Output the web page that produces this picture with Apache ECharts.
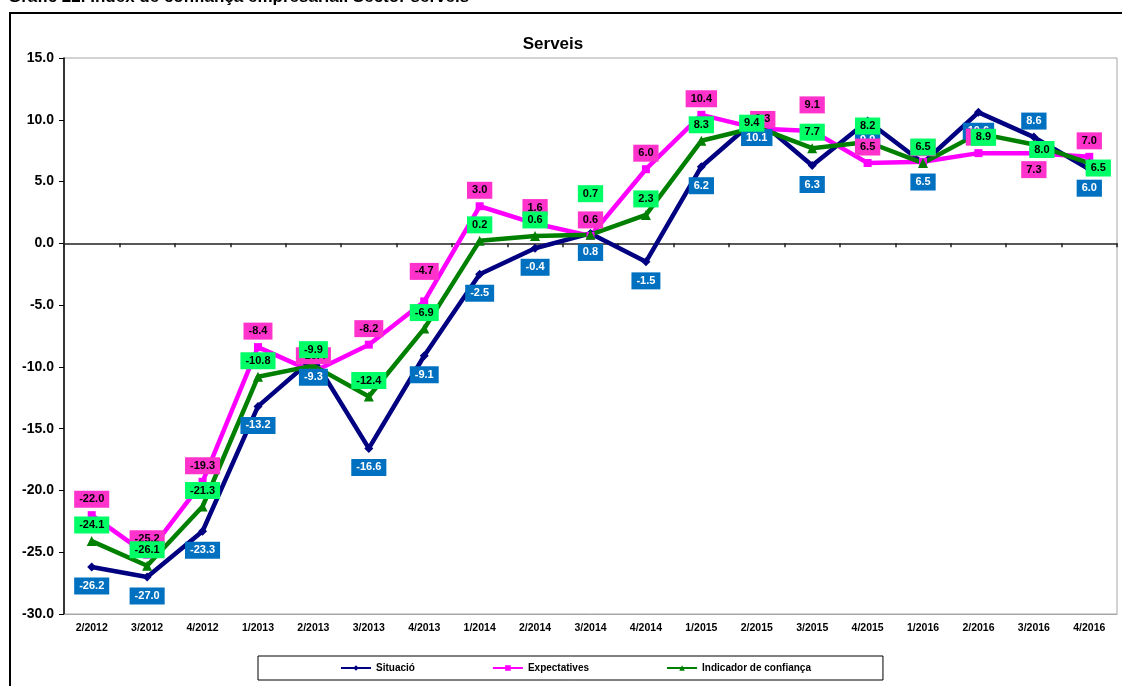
<!DOCTYPE html>
<html>
<head>
<meta charset="utf-8">
<script src="https://cdn.jsdelivr.net/npm/echarts@6/dist/echarts.min.js"></script>
<style>
  html, body { margin: 0; padding: 0; background: #fff; }
  #chart { width: 1122px; height: 686px; }
</style>
</head>
<body>
<div id="chart"></div>
<script>
const categories = ['2/2012', '3/2012', '4/2012', '1/2013', '2/2013', '3/2013', '4/2013', '1/2014', '2/2014', '3/2014',
  '4/2014', '1/2015', '2/2015', '3/2015', '4/2015', '1/2016', '2/2016', '3/2016', '4/2016'];
const situacio = [-26.2, -27.0, -23.3, -13.2, -9.3, -16.6, -9.1, -2.5, -0.4, 0.8, -1.5, 6.2, 10.1, 6.3, 9.9, 6.5, 10.6, 8.6, 6.0];
const expectatives = [-22.0, -25.2, -19.3, -8.4, -10.4, -8.2, -4.7, 3.0, 1.6, 0.6, 6.0, 10.4, 9.3, 9.1, 6.5, 6.6, 7.3, 7.3, 7.0];
const indicador = [-24.1, -26.1, -21.3, -10.8, -9.9, -12.4, -6.9, 0.2, 0.6, 0.7, 2.3, 8.3, 9.4, 7.7, 8.2, 6.5, 8.9, 8.0, 6.5];
const yTicks = { min: -30, max: 15, interval: 5 };

const FONT = 'Liberation Sans, Arial, sans-serif';

// labels that were moved by hand in the original
const labelTweaks = [
  [0, 17, { position: 'top', distance: 3 }],
  [1, 6, { offset: [0, -14] }],
  [1, 12, { offset: [6, 7] }],
  [1, 13, { offset: [0, -10] }],
  [1, 15, { offset: [0, 2] }],
  [1, 17, { position: 'bottom', distance: 4 }],
  [2, 9, { offset: [0, -25] }],
  [2, 12, { position: 'inside', offset: [-5, -4] }],
  [2, 16, { position: 'inside', offset: [5, 4] }],
  [2, 17, { position: 'inside', offset: [8, 5] }],
  [2, 18, { position: 'inside', offset: [9, 5] }]
];

function makeData(values, seriesIdx) {
  return values.map((v, i) => {
    const t = labelTweaks.find(x => x[0] === seriesIdx && x[1] === i);
    return t ? { value: v, label: t[2] } : v;
  });
}

function makeSeries(name, values, idx, color, symbol, symbolSize, labelBg, labelColor, pos, dist) {
  return {
    name: name,
    type: 'line',
    data: makeData(values, idx),
    color: color,
    symbol: symbol,
    symbolSize: symbolSize,
    showAllSymbol: true,
    lineStyle: { width: 4.5, color: color },
    itemStyle: { color: color },
    emphasis: { disabled: true },
    animation: false,
    label: {
      show: true,
      position: pos,
      distance: dist,
      formatter: p => p.value.toFixed(1),
      backgroundColor: labelBg,
      color: labelColor,
      fontFamily: FONT,
      fontWeight: 'bold',
      fontSize: 11,
      padding: [3, 5, 3, 5]
    }
  };
}

const chart = echarts.init(document.getElementById('chart'));
chart.setOption({
  backgroundColor: '#fff',
  animation: false,
  title: {
    text: 'Serveis',
    left: 548,
    top: 31,
    textAlign: 'center',
    textStyle: { fontFamily: FONT, fontWeight: 'bold', fontSize: 17, color: '#000' }
  },
  graphic: [
    {
      type: 'rect',
      shape: { x: 10, y: 13, width: 1200, height: 700 },
      style: { fill: null, stroke: '#000', lineWidth: 2 },
      silent: true
    },
    {
      type: 'text',
      x: 8,
      y: 6,
      style: {
        text: 'Gràfic 22. Índex de confiança empresarial. Sector serveis',
        fontFamily: FONT, fontWeight: 'bold', fontSize: 17, fill: '#000',
        verticalAlign: 'bottom'
      },
      silent: true
    }
  ],
  legend: {
    left: 258,
    top: 656,
    padding: [7, 72, 7, 82],
    itemGap: 77,
    itemWidth: 30,
    itemHeight: 7,
    borderColor: '#000',
    borderWidth: 1,
    textStyle: { fontFamily: FONT, fontWeight: 'bold', fontSize: 10, color: '#000' },
    data: ['Situació', 'Expectatives', 'Indicador de confiança']
  },
  grid: {
    left: 64, right: 5, top: 58, bottom: 72,
    show: true, borderColor: '#a6a6a6', borderWidth: 1,
    containLabel: false,
    outerBoundsMode: 'none'
  },
  xAxis: [
    {
      type: 'category',
      data: categories,
      boundaryGap: true,
      position: 'bottom',
      axisLine: { onZero: false, lineStyle: { color: '#a6a6a6', width: 1 } },
      axisTick: { show: false },
      axisLabel: { interval: 0, margin: 9, fontFamily: FONT, fontWeight: 'bold', fontSize: 10.5, color: '#000' },
      splitLine: { show: false }
    },
    {
      type: 'category',
      data: categories,
      boundaryGap: true,
      position: 'bottom',
      axisLine: { onZero: true, lineStyle: { color: '#222', width: 1.5 } },
      axisTick: { show: true, interval: 0, length: 4, lineStyle: { color: '#222', width: 1.5 } },
      axisLabel: { show: false },
      splitLine: { show: false }
    }
  ],
  yAxis: {
    type: 'value',
    min: yTicks.min,
    max: yTicks.max,
    interval: yTicks.interval,
    axisLine: { show: true, lineStyle: { color: '#000', width: 1.5 } },
    axisTick: { show: true, length: 5, lineStyle: { color: '#000' } },
    axisLabel: {
      margin: 10,
      formatter: v => v.toFixed(1),
      fontFamily: FONT, fontWeight: 'bold', fontSize: 14, color: '#000'
    },
    splitLine: { show: false }
  },
  series: [
    makeSeries('Situació', situacio, 0, '#000080', 'diamond', 9, '#0070c0', '#fff', 'bottom', 6),
    makeSeries('Expectatives', expectatives, 1, '#ff00ff', 'rect', 8, '#ff33cc', '#000', 'top', 3.5),
    makeSeries('Indicador de confiança', indicador, 2, '#008000', 'triangle', 10, '#00ff66', '#000', 'top', 2.5)
  ]
});
</script>
</body>
</html>
